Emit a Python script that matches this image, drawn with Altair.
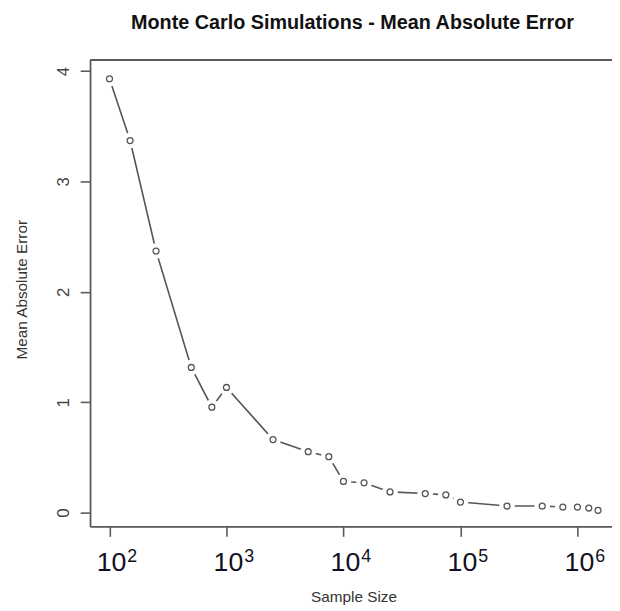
import altair as alt
import pandas as pd

sample_sizes = [100, 150, 250, 500, 750, 1000, 2500, 5000, 7500, 10000, 15000,
                25000, 50000, 75000, 100000, 250000, 500000, 750000, 1000000,
                1250000, 1500000]
mae_values = [3.93, 3.37, 2.37, 1.315, 0.955, 1.134, 0.662, 0.552, 0.507, 0.283,
              0.271, 0.188, 0.173, 0.161, 0.096, 0.060, 0.060, 0.051, 0.051,
              0.042, 0.021]
tick_values = [100, 1000, 10000, 100000, 1000000]
tick_exponents = ["2", "3", "4", "5", "6"]
y_ticks = [0, 1, 2, 3, 4]
title_text = "Monte Carlo Simulations - Mean Absolute Error"

W, H = 528, 472
FONT = "Liberation Sans"
BOX = "#5a5a5a"

df = pd.DataFrame({"n": sample_sizes, "mae": mae_values})
ticks_df = pd.DataFrame({"n": tick_values, "exp": tick_exponents})
title_df = pd.DataFrame({"t": [title_text]})

xscale = alt.Scale(type="log", domain=[68.2, 1.975e6], nice=False)
yscale = alt.Scale(domain=[-0.125, 4.101], nice=False, zero=False)

xaxis = alt.Axis(values=tick_values, labelExpr="'10'", labelFontSize=27,
                 labelFont=FONT, labelColor="#101020", labelOffset=1.5,
                 labelBaseline="alphabetic", labelPadding=35, labelFlush=False,
                 labelOverlap=False, tickSize=10, tickColor=BOX, tickWidth=1.6,
                 domainColor=BOX, domainWidth=1.8, grid=False,
                 title="Sample Size", titleFont=FONT, titleFontSize=15.5,
                 titleFontWeight="normal", titleColor="#333333",
                 titleBaseline="alphabetic", titleAlign="center",
                 titleX=266.5, titleY=76)
yaxis = alt.Axis(values=y_ticks, format="d", labelFontSize=17, labelFont=FONT,
                 labelColor="#444444", labelAngle=270, labelAlign="center",
                 labelBaseline="alphabetic", labelPadding=12, tickSize=10,
                 tickColor=BOX, tickWidth=1.6, domainColor=BOX, domainWidth=1.8,
                 grid=False, title="Mean Absolute Error", titleFont=FONT,
                 titleFontSize=15.5, titleFontWeight="normal",
                 titleColor="#333333", titleAngle=270, titleAlign="center",
                 titleBaseline="alphabetic", titleX=-64, titleY=232)

base = alt.Chart(df)

line = base.mark_line(color="#555555", strokeWidth=1.6).encode(
    x=alt.X("n:Q", scale=xscale, axis=xaxis),
    y=alt.Y("mae:Q", scale=yscale, axis=yaxis),
)
gaps = base.mark_circle(color="#ffffff", fill="#ffffff", opacity=1,
                        fillOpacity=1, size=250).encode(
    x=alt.X("n:Q", scale=xscale), y=alt.Y("mae:Q", scale=yscale))
markers = base.mark_point(shape="circle", filled=False, color="#555555",
                          strokeWidth=1.3, size=36, opacity=1).encode(
    x=alt.X("n:Q", scale=xscale), y=alt.Y("mae:Q", scale=yscale))
top_rule = base.mark_rule(color=BOX, strokeWidth=1.8).encode(
    x=alt.value(0), x2=alt.value(W), y=alt.value(0))
exps = alt.Chart(ticks_df).mark_text(font=FONT, fontSize=18, color="#101020",
                                     align="left", baseline="alphabetic",
                                     dx=18).encode(
    x=alt.X("n:Q", scale=xscale), y=alt.value(508), text="exp:N")
title = alt.Chart(title_df).mark_text(font=FONT, fontSize=20, fontWeight="bold",
                                      color="#111111", align="center",
                                      baseline="alphabetic").encode(
    x=alt.value(W / 2 + 1.5), y=alt.value(-31), text="t:N")

chart = alt.layer(line, gaps, markers, top_rule, exps, title).properties(
    width=W, height=H,
    autosize=alt.AutoSizeParams(type="none"),
    padding={"left": 83, "top": 49, "right": 0, "bottom": 78},
).configure_view(stroke=None).configure(background="white")

chart.save("out.html", embed_options={"renderer": "svg", "actions": False})
